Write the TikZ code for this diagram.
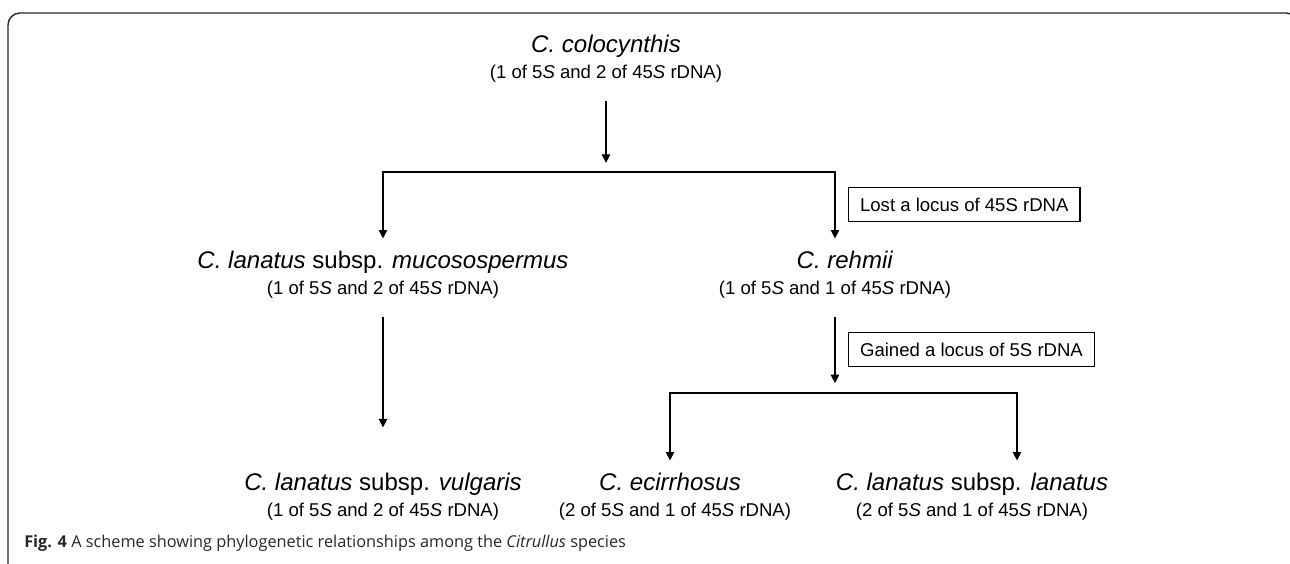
\documentclass[tikz,border=0pt]{standalone}
\usepackage{fontspec}
\setmainfont{Liberation Sans}
\newfontfamily\capfont{Open Sans}
\usetikzlibrary{arrows.meta,calc}

\begin{document}
\begin{tikzpicture}[
  taxon/.style={anchor=base, inner sep=0pt, outer sep=9pt, font=\fontsize{17.1}{20}\selectfont},
  count/.style={anchor=base, inner sep=0pt, outer sep=13pt, font=\fontsize{13.2}{16}\selectfont},
  event/.style={draw, line width=0.8pt, anchor=north west, inner xsep=8.2pt, minimum height=24pt, font=\fontsize{13.2}{16}\selectfont},
  arrow/.style={-{Triangle[length=6pt,width=6pt]}, line width=0.8pt}
]
  \useasboundingbox (0,0) rectangle (32.25,-14.075);
  % Frame
  \draw[line width=1pt, black!85, rounded corners=0.3cm] (0.2,-14.3) -- (0.2,-0.325) -- (32.45,-0.325) -- (32.45,-14.3);

  % Root
  \node[taxon] (colo) at (15.15,-1.31) {\textit{C. colocynthis}};
  \node[count] (colo-c) at (15.15,-1.965) {(1 of 5\textit{S} and 2 of 45\textit{S} rDNA)};
  \coordinate (fork1) at (15.15,-4.3);

  % Second level
  \node[taxon] (muco) at (9.575,-6.7125) {\textit{C. lanatus} subsp. \textit{mucosospermus}};
  \node[count] (muco-c) at (9.575,-7.365) {(1 of 5\textit{S} and 2 of 45\textit{S} rDNA)};
  \node[taxon] (rehm) at (21.125,-6.7125) {\textit{C. rehmii}};
  \node[count] (rehm-c) at (20.875,-7.365) {(1 of 5\textit{S} and 1 of 45\textit{S} rDNA)};
  \coordinate (fork2) at (20.875,-9.825);

  % Third level
  \node[taxon] (vulg) at (9.575,-12.2625) {\textit{C. lanatus} subsp. \textit{vulgaris}};
  \node[count] (vulg-c) at (9.575,-12.915) {(1 of 5\textit{S} and 2 of 45\textit{S} rDNA)};
  \node[taxon] (ecir) at (16.75,-12.2625) {\textit{C. ecirrhosus}};
  \node[count] (ecir-c) at (16.875,-12.915) {(2 of 5\textit{S} and 1 of 45\textit{S} rDNA)};
  \node[taxon] (lan) at (24.3,-12.2625) {\textit{C. lanatus} subsp. \textit{lanatus}};
  \node[count] (lan-c) at (24.3,-12.915) {(2 of 5\textit{S} and 1 of 45\textit{S} rDNA)};

  % Events
  \node[event] (lost) at (21.2,-4.675) {Lost a locus of 45S rDNA};
  \node[event] (gain) at (21.2,-8.3) {Gained a locus of 5S rDNA};

  \draw[arrow, shorten >=6.5pt] (colo-c) -- (fork1);
  \draw[arrow] (fork1) -| (muco);
  \draw[arrow] (fork1) -| (rehm.north -| rehm-c);
  \draw[arrow, shorten >=23.5pt] (muco-c) -- (vulg);
  \draw[arrow, shorten >=7pt] (rehm-c) -- (fork2);
  \draw[arrow] (fork2) -| (ecir);
  \draw[arrow] (fork2) -| ([xshift=1.125cm]lan.north);

  % Caption
  \node[anchor=base west, inner sep=0pt, font=\capfont\fontsize{11.6}{14}\selectfont, text=black!85] (caption) at (0.6,-13.675)
    {\textbf{Fig. 4} A scheme showing phylogenetic relationships among the \textit{Citrullus} species};
\end{tikzpicture}
\end{document}
